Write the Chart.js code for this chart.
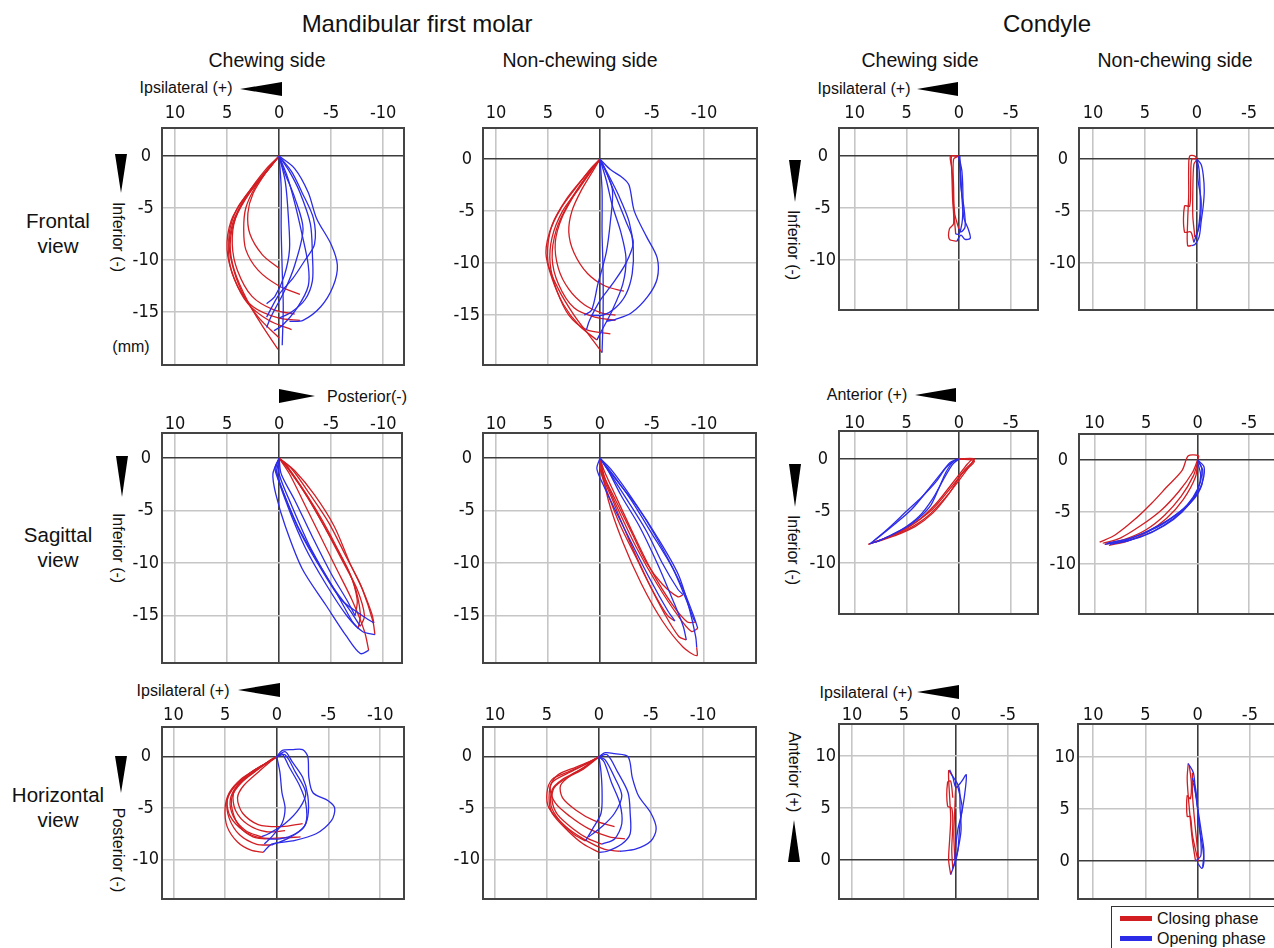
<!DOCTYPE html>
<html lang="en">
<head>
  <meta charset="UTF-8">
  <title>Mandibular first molar and condyle chewing paths</title>
  <script src="https://cdn.jsdelivr.net/npm/chart.js"></script>
  <style>
    body { margin: 0; width: 1274px; height: 948px; overflow: hidden; position: relative; background: #fff;
           font-family: "Liberation Sans", Arial, sans-serif; color: #111; }
    canvas { position: absolute; }
    .t { position: absolute; white-space: nowrap; line-height: 1; transform: translate(-50%, -50%); }
    .rot { transform: translate(-50%, -50%) rotate(90deg); }
    .tri { position: absolute; width: 0; height: 0; }
    .lr { border-top: 7px solid transparent; border-bottom: 7px solid transparent; }
    .ud { border-left: 6px solid transparent; border-right: 6px solid transparent; }
    #legend { position: absolute; left: 1111px; top: 906px; width: 200px; height: 60px; border: 1.5px solid #333; }
    .bar { position: absolute; width: 32px; height: 5px; }
  </style>
</head>
<body>
  <!-- column / row titles -->
  <div class="t" style="left:417px;top:24px;font-size:24px">Mandibular first molar</div>
  <div class="t" style="left:1047px;top:24px;font-size:24px">Condyle</div>
  <div class="t" style="left:267px;top:61px;font-size:19.5px">Chewing side</div>
  <div class="t" style="left:580px;top:61px;font-size:19.5px">Non-chewing side</div>
  <div class="t" style="left:920px;top:61px;font-size:19.5px">Chewing side</div>
  <div class="t" style="left:1175px;top:61px;font-size:19.5px">Non-chewing side</div>

  <div class="t" style="left:58px;top:221px;font-size:20.5px">Frontal</div>
  <div class="t" style="left:58px;top:246px;font-size:20.5px">view</div>
  <div class="t" style="left:58px;top:535px;font-size:20.5px">Sagittal</div>
  <div class="t" style="left:58px;top:560px;font-size:20.5px">view</div>
  <div class="t" style="left:58px;top:795px;font-size:20.5px">Horizontal</div>
  <div class="t" style="left:58px;top:820px;font-size:20.5px">view</div>

  <!-- axis direction labels -->
  <div class="t" style="left:186px;top:88px;font-size:16px">Ipsilateral (+)</div>
  <div class="tri lr" style="left:240px;top:82px;border-right:42px solid #000"></div>
  <div class="t" style="left:864px;top:89px;font-size:16px">Ipsilateral (+)</div>
  <div class="tri lr" style="left:917px;top:82px;border-right:41px solid #000"></div>

  <div class="tri lr" style="left:279px;top:389px;border-left:36px solid #000"></div>
  <div class="t" style="left:367px;top:397px;font-size:16px">Posterior(-)</div>
  <div class="t" style="left:867px;top:395px;font-size:16px">Anterior (+)</div>
  <div class="tri lr" style="left:915px;top:388px;border-right:41px solid #000"></div>

  <div class="t" style="left:183px;top:691px;font-size:16px">Ipsilateral (+)</div>
  <div class="tri lr" style="left:238px;top:683px;border-right:42px solid #000"></div>
  <div class="t" style="left:866px;top:693px;font-size:16px">Ipsilateral (+)</div>
  <div class="tri lr" style="left:917px;top:685px;border-right:42px solid #000"></div>

  <div class="tri ud" style="left:115px;top:154px;border-top:39px solid #000"></div>
  <div class="t rot" style="left:118px;top:237px;font-size:16px">Inferior (-)</div>
  <div class="t" style="left:131px;top:347px;font-size:16px">(mm)</div>
  <div class="tri ud" style="left:116px;top:456px;border-top:41px solid #000"></div>
  <div class="t rot" style="left:118px;top:548px;font-size:16px">Inferior (-)</div>
  <div class="tri ud" style="left:115px;top:756px;border-top:37px solid #000"></div>
  <div class="t rot" style="left:118px;top:850px;font-size:16px">Posterior (-)</div>

  <div class="tri ud" style="left:789px;top:160px;border-top:42px solid #000"></div>
  <div class="t rot" style="left:793px;top:245px;font-size:16px">Inferior (-)</div>
  <div class="tri ud" style="left:789px;top:464px;border-top:43px solid #000"></div>
  <div class="t rot" style="left:793px;top:550px;font-size:16px">Inferior (-)</div>
  <div class="t rot" style="left:794px;top:772px;font-size:16px">Anterior (+)</div>
  <div class="tri ud" style="left:788px;top:820px;border-bottom:42px solid #000"></div>

  <div id="legend">
    <div class="bar" style="left:8px;top:9px;background:#d21e23"></div>
    <div class="t" style="left:45px;top:12px;font-size:16px;transform:translateY(-50%)">Closing phase</div>
    <div class="bar" style="left:8px;top:29px;background:#2b2be8"></div>
    <div class="t" style="left:45px;top:32px;font-size:16px;transform:translateY(-50%)">Opening phase</div>
  </div>

  <script>
    // tick values
    const molarXTicks = [10, 5, 0, -5, -10];
    const condyleXTicks = [10, 5, 0, -5];
    const molarYTicks = [0, -5, -10, -15];
    const shortYTicks = [0, -5, -10];
    const condyleHorizYTicks = [10, 5, 0];

    // ---- Frontal view (x: ipsilateral +, y: inferior -) ----
    const molarChewFrontalClose = [
      [[0.1,-18.6],[1.5,-16.5],[3,-14],[4.3,-11],[4.7,-8.5],[4.2,-6],[2.8,-3.5],[1.2,-1.5],[0,0]],
      [[0,-17.5],[2,-15.5],[3.6,-13],[4.6,-10],[4.8,-7.5],[4,-5],[2.5,-3],[0.8,-1],[0,0]],
      [[-1.2,-16.7],[1,-15.8],[3,-14.2],[4.3,-11.8],[5,-9],[4.6,-6.2],[3.2,-3.8],[1.4,-1.6],[0,0]],
      [[-2,-15.8],[0,-15.6],[2.5,-14.5],[4,-12.5],[4.8,-10],[4.6,-7],[3.6,-4.6],[1.8,-2.2],[0,0]],
      [[-1.5,-15.2],[0.5,-14.8],[2.6,-13.5],[4,-11],[4.5,-8.5],[4.2,-6],[3,-3.6],[1.3,-1.3],[0,0]],
      [[-2,-13.3],[0,-12.5],[2,-11],[3.2,-9],[3.4,-7],[3.2,-5],[2.3,-3],[1,-1.2],[0,0]],
      [[0,-10.8],[1.6,-9.5],[2.8,-7.5],[3,-5.5],[2.5,-3.6],[1.2,-1.5],[0,0]]
    ];
    const molarChewFrontalOpen = [
      [[0,0],[-1.5,-1.2],[-2.8,-3.5],[-3.6,-6],[-5,-8.5],[-5.6,-10.5],[-5.2,-12.5],[-4,-14.5],[-2.3,-15.8],[-1,-15.9]],
      [[0,0],[-1,-1.5],[-2,-3.5],[-3,-6.5],[-3.2,-9.5],[-3.2,-12],[-2.5,-13.8],[-1.2,-15],[0,-15.6]],
      [[0,0],[-0.8,-2],[-1.5,-4.5],[-2.2,-7.5],[-2.8,-10.5],[-2.8,-12.5],[-1.8,-14.5],[-0.3,-16.3],[0.5,-16.8]],
      [[0,0],[-0.2,-3],[-0.2,-7],[-0.3,-11],[-0.4,-14.5],[-0.3,-18.2]],
      [[0,0],[-0.6,-2.5],[-0.9,-6],[-1,-9],[-0.5,-11.5],[0.4,-13.5],[1.2,-14.2]],
      [[0,0],[-1.2,-1.5],[-2.2,-3.5],[-3.3,-6],[-3.4,-8.5],[-2.5,-10],[-1.3,-11.8],[0,-13.3],[1.2,-15.5]],
      [[0,0],[-0.5,-1.5],[-1.5,-4],[-2.3,-7],[-1.5,-10.5],[-0.5,-13],[0.8,-15.5],[1.2,-16.5]]
    ];
    const molarNonFrontalClose = [
      [[-0.2,-18.6],[1,-17],[2.5,-15],[4,-12.5],[5,-10],[4.8,-7],[3.8,-4.8],[2.2,-2.6],[0.8,-0.8],[0,0]],
      [[0.3,-17.4],[2,-16],[3.5,-14],[4.6,-11.5],[5.2,-9],[4.6,-6.3],[3.2,-3.8],[1.6,-1.8],[0,0]],
      [[-1,-16.8],[1.3,-16.4],[3,-15],[4.2,-12.5],[4.8,-10],[4.6,-7.5],[3.6,-5],[2,-2.8],[0.6,-0.8],[0,0]],
      [[-1.5,-15.5],[0.5,-15.2],[2.5,-14.3],[4,-12],[4.6,-9.5],[4.2,-6.8],[3,-4.2],[1.4,-1.8],[0,0]],
      [[-2.3,-12.7],[-0.5,-12.2],[1.2,-11],[2.5,-9],[3,-7],[2.7,-5],[1.8,-3],[0.6,-1],[0,0]],
      [[-1.5,-15],[-0.2,-14.8],[1.5,-14],[3,-12.5],[4,-10.5],[4.3,-8],[3.6,-5.5],[2.2,-3],[0.8,-1],[0,0]]
    ];
    const molarNonFrontalOpen = [
      [[0,0],[-1,-1],[-2.2,-1.8],[-2.8,-2.5],[-3.3,-5],[-4.5,-7.5],[-5.5,-9.5],[-5.5,-11.5],[-4.6,-13.2],[-3,-14.8],[-1.5,-15.4],[-0.6,-15.6]],
      [[0,0],[-0.8,-1.5],[-1.8,-3.5],[-2.8,-6],[-3.2,-8.5],[-3.1,-11],[-2.5,-13],[-1.5,-14.3],[-0.3,-15],[0.9,-15]],
      [[0,0],[-0.6,-2],[-1.2,-4.5],[-2,-7],[-2.5,-9.5],[-2.2,-12],[-1.2,-14.5],[0,-16.8],[0.3,-17.4]],
      [[0,0],[-0.2,-3],[-0.2,-7],[-0.3,-11],[-0.3,-15],[-0.2,-18.6]],
      [[0,0],[-0.7,-1.5],[-1.5,-3.5],[-2.5,-6],[-3.2,-8],[-2.5,-10],[-1.2,-12],[0,-13.6],[1,-15.5],[1.3,-16.4]],
      [[0,0],[-0.5,-1],[-1.2,-3],[-1,-6],[-0.6,-9],[0.2,-12],[0.8,-14.5],[1.5,-15]]
    ];
    const condChewFrontalClose = [
      [[0.2,-8.2],[0.9,-8],[0.9,-7],[0.5,-6.5],[0.6,-4],[0.7,-1],[0.8,0],[0,0]],
      [[0.3,-7.5],[0.5,-5],[0.6,-2],[0.7,0],[0.1,0]],
      [[0,-7],[0.4,-5.5],[0.5,-3],[0.5,-0.3],[0,0]]
    ];
    const condChewFrontalOpen = [
      [[0,0],[-0.2,-2],[-0.3,-4],[-0.5,-6],[-0.9,-7],[-1.1,-7.9],[-0.6,-8],[-0.2,-7.6],[0.2,-8.2]],
      [[0,0],[-0.3,-1.5],[-0.4,-4.5],[-0.3,-6.5],[0,-7.5],[0.3,-7.5]],
      [[-0.1,0],[-0.2,-3],[-0.5,-5],[-0.6,-6.8],[-0.2,-7.3],[0,-7]]
    ];
    const condNonFrontalClose = [
      [[0.5,-8.3],[0.9,-8.3],[0.9,-6],[0.8,-3.5],[0.8,-1],[0.7,0.3],[0.2,0.3],[0,0]],
      [[0.3,-8],[0.6,-7],[1.2,-7],[1.2,-4.5],[0.7,-4.5],[0.6,-2],[0.5,0],[0,0]],
      [[0.2,-7.5],[0.4,-5.5],[0.4,-3],[0.3,-0.5],[0,0]]
    ];
    const condNonFrontalOpen = [
      [[0,0],[-0.4,-0.5],[-0.6,-1.5],[-0.7,-3],[-0.6,-4.5],[-0.4,-6],[-0.2,-7.5],[0.2,-8.2],[0.5,-8.3]],
      [[0,0],[-0.2,-1],[-0.3,-3],[-0.3,-5],[-0.1,-6.8],[0.3,-8]],
      [[0,0],[-0.1,-2],[-0.4,-4],[-0.3,-6],[0,-7.2],[0.2,-7.5]]
    ];

    // ---- Sagittal view (x: anterior +, y: inferior -) ----
    const molarChewSagClose = [
      [[-8.6,-18.3],[-8.2,-16.5],[-7,-13.5],[-5.5,-10.5],[-4,-7.5],[-2.5,-4.5],[-1,-1.5],[0,0]],
      [[-9.1,-15.7],[-8.9,-14.8],[-7.8,-12],[-6.5,-9.5],[-4.8,-6.2],[-3,-3.5],[-1.2,-1],[0,0]],
      [[-9.2,-16.8],[-9,-15.5],[-8,-12.5],[-6.8,-10],[-5.3,-6.5],[-3.4,-3.5],[-1.5,-1.2],[0,0]],
      [[-7.8,-16],[-8.2,-15],[-7.5,-12.5],[-6.2,-10],[-4.5,-6.8],[-2.8,-3.8],[-1,-1.2],[0,0]],
      [[-7.6,-16.2],[-7.8,-14.8],[-7.2,-12],[-5.8,-9],[-4.2,-6],[-2.6,-3.4],[-0.8,-0.8],[0,0]],
      [[-7.3,-15],[-7.5,-13.5],[-6.8,-11],[-5.2,-8],[-3.6,-5.2],[-2,-2.6],[-0.6,-0.6],[0,0]]
    ];
    const molarChewSagOpen = [
      [[0,0],[0.6,-1.5],[0.3,-3.5],[-0.6,-6.5],[-2.2,-10.5],[-4.5,-14],[-6.5,-17],[-7.8,-18.6],[-8.6,-18.3]],
      [[0,0],[0.3,-1],[-0.5,-3.5],[-2,-7],[-4,-10.5],[-6,-13.5],[-8,-15],[-9.1,-15.7]],
      [[0,0],[0.2,-1.5],[-0.8,-4.5],[-2.5,-8.5],[-4.5,-12],[-6.5,-15],[-8,-16.5],[-9.2,-16.8]],
      [[0,0],[0,-1.5],[-1.2,-4.5],[-3,-8.5],[-5,-12],[-6.8,-14.5],[-7.8,-16]],
      [[0,0],[0.4,-1],[-0.3,-3],[-1.8,-6.5],[-3.8,-10],[-5.6,-13],[-7,-15.5],[-7.6,-16.2]],
      [[0,0],[-0.2,-1.5],[-1.5,-4],[-3.2,-7.5],[-5,-11],[-6.5,-13.5],[-7.3,-15]]
    ];
    const molarNonSagClose = [
      [[-9.4,-16.2],[-8.8,-16.5],[-7.5,-15],[-5.5,-12],[-3.5,-8.5],[-1.8,-5],[-0.5,-2],[0,0]],
      [[-9.3,-18],[-9.3,-18.8],[-8,-18],[-6,-15.5],[-4,-12],[-2.2,-8],[-0.8,-4],[0,0]],
      [[-8,-13],[-7.5,-13.2],[-6,-12],[-4.5,-10],[-3,-7],[-1.5,-4],[-0.3,-1.5],[0,0]],
      [[-8.3,-17.3],[-7.6,-17],[-6.2,-14.8],[-4.5,-11.5],[-2.8,-7.8],[-1.3,-4.2],[-0.2,-1.5],[0,0]],
      [[-9.2,-15.6],[-8.4,-15.6],[-7,-14],[-5,-10.8],[-3.2,-7.2],[-1.6,-3.8],[-0.4,-1.2],[0,0]],
      [[-7.2,-15.5],[-6.5,-15],[-5,-12.5],[-3.5,-9.5],[-2,-6.5],[-0.8,-3.5],[0,-1],[0,0]]
    ];
    const molarNonSagOpen = [
      [[0,0],[-1,-1],[-2.5,-3],[-4.5,-6],[-6.5,-9.5],[-8,-12.5],[-9,-15],[-9.4,-16.2]],
      [[0,0],[-1.5,-2],[-3.5,-4.5],[-5.5,-7.5],[-7.5,-11],[-8.5,-14],[-9.2,-17],[-9.3,-18]],
      [[0,0],[-1,-1.5],[-2.5,-3.8],[-4.5,-7],[-6,-10],[-7.5,-12.5],[-8,-13]],
      [[0,0],[-0.8,-1.2],[-2,-3.5],[-3.8,-6.5],[-5.5,-10],[-7,-13.5],[-8,-16],[-8.3,-17.3]],
      [[0,0],[-1.2,-1.5],[-3,-4],[-5,-7.2],[-7,-10.5],[-8.3,-13.5],[-9,-15.3],[-9.2,-15.6]],
      [[0,0],[0.3,-1],[-0.3,-2.5],[-1.5,-5],[-3,-8],[-4.8,-11.5],[-6.5,-14.5],[-7.2,-15.5]]
    ];
    const condChewSagClose = [
      [[8.7,-8.2],[7,-7.6],[5,-6.8],[3,-5.5],[1.2,-3.6],[-0.2,-1.8],[-1.3,-0.3],[-1.4,0],[0,0]],
      [[8.4,-8.1],[6.5,-7.4],[4.5,-6.3],[2.5,-4.8],[0.8,-2.8],[-0.6,-1],[-1.5,0],[0,0]],
      [[8.2,-8],[6,-7.2],[4,-6],[2.2,-4.3],[0.6,-2.3],[-0.8,-0.5],[-1.2,0],[0.2,0]],
      [[8,-8],[6.2,-7.4],[4.2,-6.5],[2.5,-5.2],[1,-3.4],[-0.3,-1.4],[-1.5,-0.2],[0,0]]
    ];
    const condChewSagOpen = [
      [[0,0],[0.8,-0.3],[1.8,-1.5],[3,-3],[4.5,-4.8],[6.2,-6.3],[7.8,-7.6],[8.6,-8.2]],
      [[0,0],[0.6,-0.5],[1.5,-2],[2.5,-3.8],[3.8,-5.5],[5.5,-6.8],[7.5,-7.8],[8.4,-8.1]],
      [[0,0],[0.5,-0.2],[1.2,-1.2],[2,-3],[2.8,-4.6],[4.5,-6.2],[6.5,-7.3],[8,-8]],
      [[0.2,0],[1.2,-0.8],[2.2,-2.2],[3.5,-3.6],[5,-5],[6.8,-6.7],[8.2,-7.9]]
    ];
    const condNonSagClose = [
      [[9.5,-7.9],[8,-7.2],[6.2,-5.8],[4.5,-4.2],[3,-2.6],[1.5,-1],[0.9,0.4],[-0.1,0.4],[0,0]],
      [[9.2,-8],[7.5,-7.5],[5.5,-6.3],[3.5,-4.8],[1.8,-3],[0.5,-1.2],[0,0]],
      [[9,-8.1],[7,-7.6],[5,-6.7],[3.2,-5.3],[1.6,-3.5],[0.4,-1.5],[0,-0.2]],
      [[8.6,-8.2],[6.8,-7.8],[4.8,-6.9],[3,-5.6],[1.4,-3.8],[0.2,-1.6],[0,0]]
    ];
    const condNonSagOpen = [
      [[0,0],[-0.6,-0.6],[-0.6,-1.6],[-0.2,-2.8],[0.8,-4.2],[2.3,-5.6],[4.2,-6.8],[6.5,-7.7],[8.5,-8.1]],
      [[0,0],[-0.4,-0.8],[-0.3,-2],[0.3,-3.5],[1.5,-5],[3.2,-6.3],[5.5,-7.4],[8,-8]],
      [[0,0],[-0.5,-1],[-0.4,-2.4],[0.4,-3.8],[2,-5.2],[4,-6.5],[6.5,-7.5],[8.8,-8]],
      [[0,-0.2],[-0.3,-1.5],[0,-2.8],[1,-4.3],[2.6,-5.6],[4.8,-6.8],[7.2,-7.8],[9,-8.1]]
    ];

    // ---- Horizontal view (x: ipsilateral +, y: posterior - / anterior +) ----
    const molarChewHorizClose = [
      [[1.3,-9.3],[2.5,-9.1],[3.8,-8.3],[4.8,-6.8],[5,-5],[4.6,-3.5],[3.5,-2.2],[2,-1.2],[0.8,-0.5],[0,0]],
      [[0.5,-8.6],[2,-8.5],[3.6,-7.6],[4.6,-6],[4.8,-4.3],[4.2,-3],[3,-2],[1.6,-1],[0,0]],
      [[1,-8],[2.3,-7.8],[3.6,-6.8],[4.3,-5.2],[4.3,-3.8],[3.5,-2.6],[2.2,-1.5],[0.8,-0.5],[0,0]],
      [[-2.3,-7.8],[-0.5,-7.9],[1.5,-7.9],[3.2,-7.2],[4.5,-5.8],[4.8,-4.2],[4,-2.8],[2.5,-1.5],[1,-0.6],[0,0]],
      [[-0.8,-7.2],[1,-7.3],[2.8,-6.6],[4,-5.2],[4.2,-3.6],[3.4,-2.3],[2,-1.2],[0.5,-0.3],[0,0]],
      [[1.5,-7.8],[3,-7.2],[4.2,-5.8],[4.5,-4.2],[3.8,-2.8],[2.2,-1.5],[0.6,-0.3],[0,0]],
      [[-2.5,-6.5],[-0.5,-6.8],[1.8,-6.6],[3.3,-5.5],[3.8,-4],[3.2,-2.8],[1.8,-1.5],[0.4,-0.3],[0,0]]
    ];
    const molarChewHorizOpen = [
      [[0,0],[-0.5,0.6],[-1.5,0.7],[-2.5,0.7],[-3,0],[-3.1,-2],[-3.5,-3.5],[-5,-4.3],[-5.6,-5],[-5.3,-6.2],[-3.8,-7.5],[-1.5,-8.2],[0.5,-8.5],[1.3,-9.3]],
      [[0,0],[-0.8,0.5],[-1.5,-0.5],[-2.5,-2],[-3,-3.8],[-3,-5.8],[-2.5,-7],[-1,-8],[0.5,-8.6]],
      [[0,0],[-0.5,0.3],[-1.2,-1],[-2.2,-2.8],[-2.8,-4.5],[-2.8,-6.5],[-1.8,-7.5],[-0.3,-8],[1,-8]],
      [[0,0],[-0.3,-1.5],[-0.5,-3.5],[-0.8,-5],[-0.5,-6.5],[0.5,-7.8],[1.2,-8.5]],
      [[0,0],[-0.8,0.2],[-1.8,-1.5],[-2.8,-3.5],[-2.2,-5],[-0.8,-6.5],[0.8,-7.5],[1.5,-7.8]]
    ];
    const molarNonHorizClose = [
      [[-2,-9.2],[-0.5,-9],[1.5,-8],[3.2,-6.8],[4.8,-5],[5,-3.5],[4.5,-2.2],[3,-1.5],[1.5,-0.8],[0,0]],
      [[0,-9.3],[1.5,-8.5],[3,-7.2],[4.5,-5.5],[4.8,-4],[4.5,-2.5],[3,-1.6],[1.2,-0.7],[0,0]],
      [[-0.3,-8.5],[1,-8],[2.5,-7],[4,-5.6],[4.5,-4.3],[4.3,-3],[3,-2],[1.5,-1.2],[0,0]],
      [[-2.5,-8],[-1,-7.8],[1,-7],[2.8,-5.8],[4.2,-4.5],[4.7,-3],[4,-1.8],[2.2,-1],[0.5,-0.3],[0,0]],
      [[1.3,-8.2],[2.5,-7.5],[3.8,-6.2],[4.6,-4.8],[4.5,-3.2],[3.5,-2.2],[2,-1.4],[0.6,-0.4],[0,0]],
      [[-1.5,-6.8],[0.5,-6.2],[2.2,-5.2],[3.5,-4],[3.7,-2.8],[2.7,-1.8],[1.2,-0.9],[0,0]]
    ];
    const molarNonHorizOpen = [
      [[0,0],[-0.6,0.4],[-1.5,0.3],[-2.8,0],[-3.2,-2],[-3.8,-3.8],[-5,-5.5],[-5.5,-7],[-5,-8.2],[-3.5,-9],[-2,-9.2]],
      [[0,0],[-0.8,0.2],[-1.8,-1.5],[-2.8,-3.5],[-3,-5.5],[-3,-7.5],[-2.2,-8.5],[-0.8,-9.2],[0,-9.3]],
      [[0,0],[-0.5,-0.5],[-1.2,-2.5],[-2,-4.5],[-2.2,-6.5],[-1.5,-8],[-0.3,-8.5]],
      [[0,0],[-0.2,-1.5],[-0.3,-3.5],[-0.2,-5.5],[0.6,-7],[1.3,-8.2]],
      [[0,0],[-0.6,-0.3],[-1.5,-2],[-2.2,-3.8],[-1.5,-5.5],[-0.3,-6.8],[1,-7.8]]
    ];
    const condChewHorizClose = [
      [[0.5,-1.4],[0.7,0],[0.6,2],[0.5,4],[0.6,6],[0.7,8.6],[0.4,8.2]],
      [[0.3,-0.8],[0.4,1],[0.3,3.5],[0.4,5],[0.8,5.2],[0.8,7.5],[0.5,7.6],[0.3,6]],
      [[0.1,0],[0.2,2.5],[0.1,5],[0,7],[-0.2,7]]
    ];
    const condChewHorizOpen = [
      [[0.6,8.7],[0.3,8],[0,7],[-0.5,7.5],[-1,8.2],[-0.8,6],[-0.4,3.5],[-0.2,1],[0,0],[0.5,-1.4]],
      [[0.4,8.2],[-0.3,7],[-0.4,5],[-0.5,3],[-0.3,1.5],[0,0.2],[0.3,-0.8]],
      [[-0.2,7],[-0.6,5],[-0.2,3],[0,1.5],[0.1,0]]
    ];
    const condNonHorizClose = [
      [[0.9,9.4],[1,8],[0.9,6.3],[0.7,4],[0.5,2],[0.2,0]],
      [[0.8,9.2],[0.6,7.5],[0.7,6],[1,6.3],[1,4.3],[0.7,4.3],[0.5,2.5],[0,0.2]],
      [[0.5,8.5],[0.5,6.5],[0.3,4],[0.1,2],[-0.1,0]]
    ];
    const condNonHorizOpen = [
      [[0.5,8],[0.2,7],[0,5],[-0.2,3],[-0.5,1.2],[-0.6,0],[-0.4,-0.7],[0,-0.2]],
      [[0.4,7.5],[0.1,6],[-0.1,4],[-0.3,2],[-0.3,0.5],[0.2,0]],
      [[0.9,9.4],[0.4,8.5],[0.2,6.5],[-0.1,4.5],[-0.4,2.5],[-0.6,1],[-0.5,-0.5]]
    ];

    const CLOSE_COLOR = '#d21e23';
    const OPEN_COLOR = '#2b2be8';
    const AXW = 60, AXH = 40, PAD = 3;

    // box = plot area in page pixels [left, top, right, bottom]; x = [left value, right value], y = [bottom, top]
    // gap = distance from the plot top to the middle of the x tick labels
    const panels = [
      { box: [162, 128, 404, 365], x: [11.25, -12.0], y: [-20.1, 2.7], gap: 17, xt: molarXTicks, yt: molarYTicks, close: molarChewFrontalClose, open: molarChewFrontalOpen },
      { box: [483, 128, 757, 365], x: [11.25, -15.1], y: [-19.8, 3.0], gap: 17, xt: molarXTicks, yt: molarYTicks, close: molarNonFrontalClose, open: molarNonFrontalOpen },
      { box: [839, 128, 1038, 310], x: [11.5, -7.6], y: [-14.8, 2.7], gap: 17, xt: condyleXTicks, yt: shortYTicks, close: condChewFrontalClose, open: condChewFrontalOpen },
      { box: [1079, 128, 1276, 310], x: [11.35, -7.6], y: [-14.5, 3.0], gap: 17, xt: condyleXTicks, yt: shortYTicks, close: condNonFrontalClose, open: condNonFrontalOpen },
      { box: [162, 433, 402, 663], x: [11.25, -11.8], y: [-19.5, 2.4], gap: 11, xt: molarXTicks, yt: molarYTicks, close: molarChewSagClose, open: molarChewSagOpen },
      { box: [483, 433, 756, 663], x: [11.25, -15.0], y: [-19.5, 2.4], gap: 11, xt: molarXTicks, yt: molarYTicks, close: molarNonSagClose, open: molarNonSagOpen },
      { box: [839, 431, 1038, 614], x: [11.5, -7.6], y: [-14.9, 2.7], gap: 10, xt: condyleXTicks, yt: shortYTicks, close: condChewSagClose, open: condChewSagOpen },
      { box: [1079, 434, 1276, 614], x: [11.5, -7.6], y: [-14.8, 2.5], gap: 13, xt: condyleXTicks, yt: shortYTicks, close: condNonSagClose, open: condNonSagOpen },
      { box: [162, 727, 404, 899], x: [11.1, -12.3], y: [-13.85, 2.9], gap: 14, xt: molarXTicks, yt: shortYTicks, close: molarChewHorizClose, open: molarChewHorizOpen },
      { box: [483, 727, 756, 899], x: [11.15, -15.1], y: [-13.85, 2.9], gap: 14, xt: molarXTicks, yt: shortYTicks, close: molarNonHorizClose, open: molarNonHorizOpen },
      { box: [839, 724, 1038, 899], x: [11.25, -7.9], y: [-3.75, 13.1], gap: 11, xt: condyleXTicks, yt: condyleHorizYTicks, close: condChewHorizClose, open: condChewHorizOpen },
      { box: [1078, 724, 1276, 899], x: [11.45, -7.5], y: [-3.65, 13.2], gap: 11, xt: condyleXTicks, yt: condyleHorizYTicks, close: condNonHorizClose, open: condNonHorizOpen }
    ];

    // black frame round the plot area
    const frame = {
      id: 'frame',
      beforeDatasetsDraw(chart) {
        const { ctx, chartArea: a } = chart;
        ctx.save();
        ctx.strokeStyle = '#444';
        ctx.lineWidth = 2;
        ctx.strokeRect(a.left, a.top, a.right - a.left, a.bottom - a.top);
        ctx.restore();
      }
    };

    function strokes(list, color) {
      return list.map(s => ({
        data: s.map(([x, y]) => ({ x, y })),
        showLine: true,
        borderColor: color,
        borderWidth: 1.3,
        pointRadius: 0,
        tension: 0.3,
        fill: false
      }));
    }

    // fixed axis size, and no extra room kept for labels sticking out at the ends
    function fixSize(axis, w, h) {
      if (w) axis.width = w;
      if (h) axis.height = h;
      axis.paddingTop = 0;
      axis.paddingBottom = 0;
      axis.paddingLeft = 0;
      axis.paddingRight = 0;
    }

    const gridColor = c => (c.tick && c.tick.value === 0) ? '#3c3c3c' : '#c6c6c6';
    const tickFont = { family: '"DejaVu Sans Condensed", "DejaVu Sans", sans-serif', size: 18 };

    panels.forEach(p => {
      const [l, t, r, b] = p.box;
      const canvas = document.createElement('canvas');
      canvas.width = r - l + AXW + PAD;
      canvas.height = b - t + AXH + PAD;
      canvas.style.left = (l - AXW) + 'px';
      canvas.style.top = (t - AXH) + 'px';
      document.body.appendChild(canvas);

      new Chart(canvas, {
        type: 'scatter',
        data: { datasets: [...strokes(p.open, OPEN_COLOR), ...strokes(p.close, CLOSE_COLOR)] },
        options: {
          responsive: false,
          animation: false,
          layout: { padding: { left: 0, top: 0, right: PAD, bottom: PAD } },
          plugins: { legend: { display: false }, tooltip: { enabled: false } },
          scales: {
            x: {
              type: 'linear', position: 'top', reverse: true,
              min: p.x[1], max: p.x[0],
              afterBuildTicks: axis => { axis.ticks = p.xt.map(v => ({ value: v })); },
              afterFit: axis => fixSize(axis, 0, AXH),
              ticks: { padding: p.gap - 13.5, font: tickFont, color: '#111', callback: v => String(v) },
              grid: { color: gridColor, lineWidth: 1.6, drawTicks: false },
              border: { display: false }
            },
            y: {
              type: 'linear', position: 'left',
              min: p.y[0], max: p.y[1],
              afterBuildTicks: axis => { axis.ticks = p.yt.map(v => ({ value: v })); },
              afterFit: axis => fixSize(axis, AXW, 0),
              ticks: { padding: 3, crossAlign: 'center', font: tickFont, color: '#111', callback: v => String(v) },
              grid: { color: gridColor, lineWidth: 1.6, drawTicks: false },
              border: { display: false }
            }
          }
        },
        plugins: [frame]
      });
    });
  </script>
</body>
</html>
